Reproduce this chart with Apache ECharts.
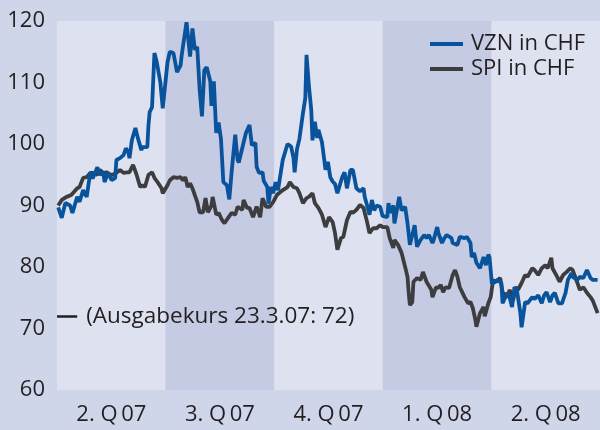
<!DOCTYPE html>
<html>
<head>
<meta charset="utf-8">
<script src="https://cdn.jsdelivr.net/npm/echarts@6/dist/echarts.min.js"></script>
<style>
  html, body { margin: 0; padding: 0; background: #d0d6ea; }
  #chart { width: 600px; height: 430px; }
</style>
</head>
<body>
<div id="chart"></div>
<script>
// quarter labels (x axis bands)
const quarters = ["2. Q\u200907", "3. Q\u200907", "4. Q\u200907", "1. Q\u200908", "2. Q\u200908"];
// days since 1.4.2007
const totalDays = 457;

// VZN in CHF
const vznDays = [1,4,7,11,13,17,19,22,25,28,30,34,36,39,40,43,46,49,50,53,56,58,60,61,63,66,68,71,72,76,77,78,80,82,84,87,89,93,95,98,101,104,105,109,112,114,116,118,120,122,124,126,129,130,132,134,136,138,140,143,145,147,150,152,153,157,159,162,164,167,168,170,173,174,177,178,180,182,184,186,190,194,197,199,200,202,204,207,209,210,212,214,215,217,219,220,223,226,228,230,232,234,236,240,242,244,247,249,252,255,258,259,261,263,265,267,269,272,274,278,279,280,283,284,286,288,290,293,295,297,300,301,303,306,309,311,313,316,317,320,321,324,326,328,332,333,337,339,343,345,348,349,351,353,356,359,361,363,364,366,369,371,374,375,379,381,383,385,387,390,391,394,396,400,402,405,408,410,412,415,417,419,422,425,428,430,433,434,438,440,443,446,449,451,455];
const vznValues = [89.7,88.0,90.4,90.0,88.8,91.4,90.6,92.5,91.4,95.4,94.4,96.2,95.0,95.4,93.8,95.3,94.1,94.5,97.4,97.7,98.2,99.3,98.7,97.7,100.6,102.6,101.0,99.0,99.5,99.5,103.1,105.2,106.0,114.8,113.3,110.0,105.8,113.3,115.0,114.8,111.7,112.8,114.5,119.8,114.2,118.8,115.3,115.8,109.0,104.5,112.0,112.5,110.2,106.2,110.2,101.8,103.5,100.8,93.8,93.3,91.0,95.5,101.5,97.4,97.0,100.2,101.8,103.1,99.8,100.2,96.3,95.3,95.4,94.0,93.0,90.3,93.0,92.0,93.8,92.5,97.4,100.0,99.6,97.8,95.4,99.2,100.8,105.0,107.5,114.5,109.5,105.5,100.6,103.6,101.0,102.3,100.3,95.8,97.1,94.6,93.9,93.5,92.0,94.6,95.4,92.8,95.8,95.8,92.8,92.3,92.8,91.4,90.0,88.5,90.9,89.2,90.0,89.8,88.3,88.1,90.4,88.8,90.0,87.1,89.2,91.4,89.2,89.8,87.1,83.6,86.0,86.8,83.3,84.4,85.2,84.7,85.2,83.9,84.4,86.5,85.5,83.9,84.7,85.2,84.7,83.9,83.6,84.9,84.7,84.9,83.9,81.6,82.3,80.7,79.8,81.6,80.3,82.0,81.6,77.3,77.6,77.9,77.4,74.1,75.8,75.0,73.5,76.7,76.3,72.5,70.2,74.3,74.1,75.1,74.8,75.4,74.1,75.4,75.9,74.3,75.4,75.8,74.1,74.1,75.8,77.9,79.0,78.4,77.9,78.4,78.2,79.5,78.2,77.9,77.9];

// SPI in CHF
const spiDays = [1,4,8,12,13,17,19,22,25,28,30,34,36,39,42,45,47,50,53,56,59,61,64,67,70,72,74,77,80,82,85,88,89,93,95,98,101,104,106,108,110,112,114,118,120,123,125,127,130,131,134,136,139,141,144,147,150,152,156,157,160,162,165,168,171,173,176,179,182,185,188,190,194,196,199,202,204,207,210,212,215,217,220,223,226,229,232,234,236,239,241,244,247,249,252,255,258,259,261,263,266,269,272,274,278,280,283,284,287,290,293,295,296,297,299,300,303,306,308,311,312,315,316,319,321,323,325,327,330,333,335,337,339,342,343,346,348,350,352,353,356,359,360,363,365,367,369,373,375,379,381,384,386,388,391,394,396,400,402,405,408,411,413,416,417,421,423,426,429,432,434,438,440,443,446,449,451,455];
const spiValues = [90.0,90.9,91.4,91.7,91.4,92.8,93.0,94.5,94.6,95.3,95.3,95.0,95.8,95.3,95.4,95.0,95.0,95.3,95.8,95.3,95.4,95.4,96.6,95.0,93.0,93.3,93.0,95.0,95.4,94.5,93.7,92.8,92.0,93.3,94.1,94.6,94.5,94.6,94.1,94.6,93.0,93.6,92.8,90.6,88.9,88.9,91.2,88.9,90.0,91.4,88.5,88.8,87.6,87.1,88.0,88.8,88.5,89.8,89.3,90.9,89.6,89.6,88.1,89.8,88.1,91.2,89.8,89.8,90.6,91.7,92.2,92.5,93.0,93.8,93.0,92.8,92.0,90.4,91.2,91.4,92.0,90.4,89.6,88.5,86.5,88.1,87.3,85.5,82.8,84.7,84.9,87.6,89.0,88.8,89.3,90.1,89.6,89.3,87.3,85.5,86.3,86.3,86.8,86.5,86.5,84.7,83.1,84.4,83.6,82.3,80.0,78.4,75.8,73.8,74.3,77.6,78.2,77.9,79.2,77.6,77.4,76.3,75.1,76.7,76.6,77.1,75.9,76.7,76.6,78.7,79.5,78.4,76.7,75.5,75.1,74.1,74.3,73.3,71.5,70.3,72.5,73.5,72.0,74.1,75.1,77.9,77.6,78.2,75.9,75.1,76.3,74.6,76.7,76.3,77.4,78.7,78.4,79.8,79.5,78.7,79.8,80.3,79.8,81.5,79.8,78.4,77.6,78.7,79.2,79.8,79.5,77.4,76.3,76.7,75.8,75.1,74.5,72.5];

// issue price note
const issuePrice = 72;
const issueNote = "(Ausgabekurs 23.3.07: 72)";

const vzn = vznDays.map((d, i) => [d, vznValues[i]]);
const spi = spiDays.map((d, i) => [d, spiValues[i]]);

const font = "'Open Sans', 'Noto Sans', sans-serif";
const textColor = "#231f20";

var myChart = echarts.init(document.getElementById("chart"));
myChart.setOption({
  backgroundColor: "#d0d6ea",
  animation: false,
  textStyle: { fontFamily: font },
  grid: { left: 57, right: 0, top: 21, bottom: 40 },
  legend: {
    orient: "vertical",
    left: 425,
    top: 28,
    itemGap: 3,
    itemWidth: 33,
    itemHeight: 4,
    icon: "rect",
    data: ["VZN in CHF", "SPI in CHF"],
    textStyle: { fontSize: 22, color: textColor, fontFamily: font, padding: [0, 0, 0, 3] },
  },
  xAxis: [
    {
      // quarter bands and labels
      type: "category",
      data: quarters,
      boundaryGap: true,
      axisLine: { show: false },
      axisTick: { show: false },
      axisLabel: { fontSize: 22, color: textColor, margin: 14, fontFamily: font },
      splitArea: { show: true, areaStyle: { color: ["#dde1f0", "#c4cbe3"] } },
    },
    {
      type: "value",
      min: 0,
      max: totalDays,
      show: false,
    },
  ],
  yAxis: {
    type: "value",
    min: 60,
    max: 120,
    interval: 10,
    axisLine: { show: false },
    axisTick: { show: false },
    axisLabel: { fontSize: 22, color: textColor, margin: 12, fontFamily: font },
    splitLine: { lineStyle: { color: "#d0d6ea", width: 2 } },
  },
  series: [
    {
      name: "SPI in CHF",
      type: "line",
      xAxisIndex: 1,
      data: spi,
      symbol: "none",
      z: 2,
      itemStyle: { color: "#3d3d3f" },
      lineStyle: { color: "#3d3d3f", width: 3.8 },
    },
    {
      name: "VZN in CHF",
      type: "line",
      xAxisIndex: 1,
      data: vzn,
      symbol: "none",
      z: 3,
      itemStyle: { color: "#08539c" },
      lineStyle: { color: "#08539c", width: 3.8 },
      markLine: {
        silent: true,
        symbol: "none",
        lineStyle: { color: textColor, width: 2.5, type: "solid" },
        label: {
          show: true,
          position: "end",
          distance: 9,
          formatter: issueNote,
          fontSize: 22.5,
          color: textColor,
          fontFamily: font,
        },
        data: [[{ coord: [0, issuePrice] }, { coord: [17, issuePrice] }]],
      },
    },
  ],
});
</script>
</body>
</html>
